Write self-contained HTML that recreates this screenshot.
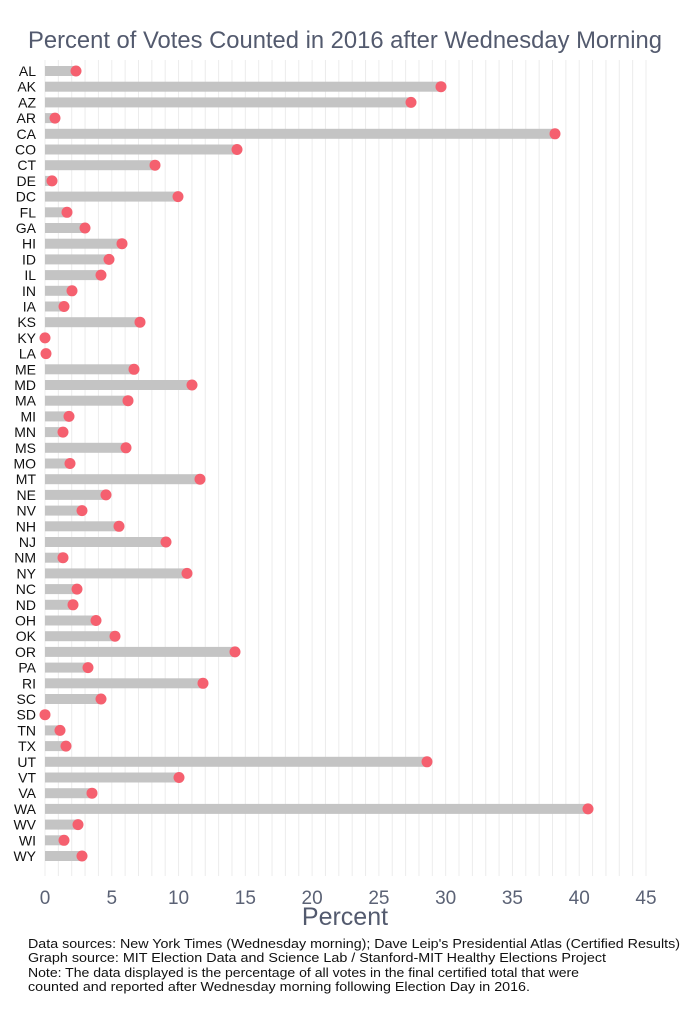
<!DOCTYPE html>
<html><head><meta charset="utf-8"><style>body{margin:0;background:#fff}svg{display:block}</style></head>
<body>
<svg id="s" width="683" height="1024" xmlns="http://www.w3.org/2000/svg" font-family="Liberation Sans, sans-serif">
<text x="345" y="48" text-anchor="middle" font-size="24" fill="#535a6e" textLength="634" lengthAdjust="spacingAndGlyphs">Percent of Votes Counted in 2016 after Wednesday Morning</text>
<g id="grid"></g><g id="bars"></g>
<text x="345" y="925" text-anchor="middle" font-size="25" fill="#535a6e">Percent</text>
<g font-size="13" fill="#111">
<text x="28" y="948" textLength="652" lengthAdjust="spacingAndGlyphs">Data sources:  New York Times (Wednesday morning); Dave Leip's Presidential Atlas (Certified Results)</text>
<text x="28" y="962" textLength="578" lengthAdjust="spacingAndGlyphs">Graph source:  MIT Election Data and Science Lab / Stanford-MIT Healthy Elections Project</text>
<text x="28" y="977" textLength="551" lengthAdjust="spacingAndGlyphs">Note:  The data displayed is the percentage of all votes in the final certified total that were</text>
<text x="28" y="991" textLength="502" lengthAdjust="spacingAndGlyphs">counted and reported after Wednesday morning following Election Day in 2016.</text>
</g>
</svg>
<script>
var ns="http://www.w3.org/2000/svg";
function el(p,t,a,txt){var e=document.createElementNS(ns,t);for(var k in a)e.setAttribute(k,a[k]);if(txt!=null)e.textContent=txt;document.getElementById(p).appendChild(e);}
var x0=45,u=(646-45)/45;
for(var i=0;i<=45;i++){var x=x0+i*u;el("grid","line",{x1:x,x2:x,y1:60,y2:876,stroke:"#ececec","stroke-width":1});}
for(var i=0;i<=45;i+=5){el("grid","text",{x:x0+i*u,y:904,"text-anchor":"middle","font-size":"19",fill:"#5b6275"},String(i));}
var d=[["AL",76],["AK",441],["AZ",411],["AR",55],["CA",555],["CO",237],["CT",155],["DE",52],["DC",178],["FL",67],["GA",85],["HI",122],["ID",109],["IL",101],["IN",72],["IA",64],["KS",140],["KY",45],["LA",46],["ME",134],["MD",192],["MA",128],["MI",69],["MN",63],["MS",126],["MO",70],["MT",200],["NE",106],["NV",82],["NH",119],["NJ",166],["NM",63],["NY",187],["NC",77],["ND",73],["OH",96],["OK",115],["OR",235],["PA",88],["RI",203],["SC",101],["SD",45],["TN",60],["TX",66],["UT",427],["VT",179],["VA",92],["WA",588],["WV",78],["WI",64],["WY",82]];
d.forEach(function(r,i){var y=71+i*15.7;
el("bars","text",{x:36,y:y+5,"text-anchor":"end","font-size":"14",fill:"#111"},r[0]);
if(r[1]>45)el("bars","rect",{x:45,y:y-5,width:r[1]-45,height:10,fill:"#c4c4c4"});
el("bars","circle",{cx:r[1],cy:y,r:5.5,fill:"#f5606f"});});
</script>
</body></html>
